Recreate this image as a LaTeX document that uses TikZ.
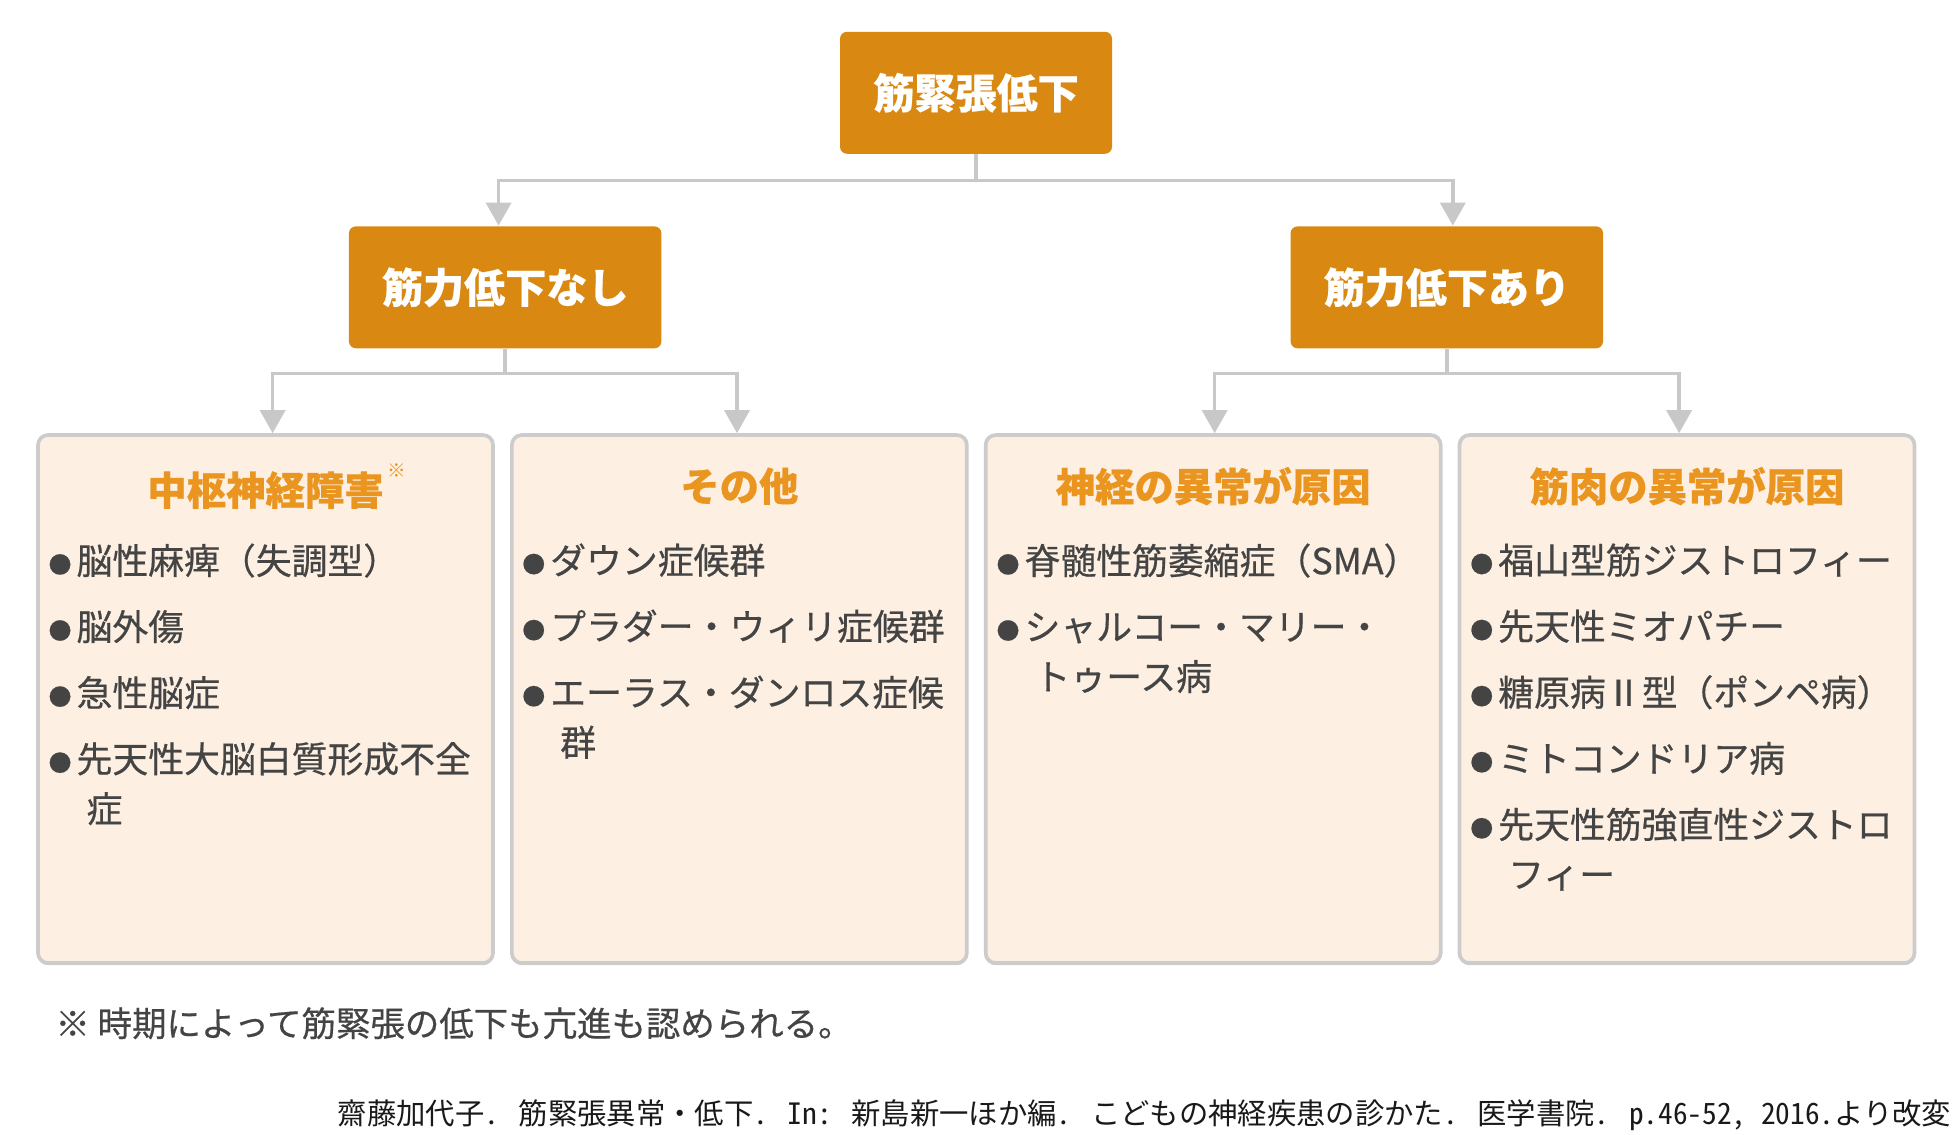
\documentclass[tikz,border=0pt]{standalone}
\usepackage{fontspec}
\setmainfont[BoldFeatures={FakeBold=0.5}]{Noto Sans CJK JP}
\newfontfamily\medfont[FakeBold=0.5]{Noto Sans CJK JP}
\newfontfamily\citefont[RawFeature=+hwid]{Noto Sans CJK JP}
\usetikzlibrary{arrows.meta,shadows}
\definecolor{kinorange}{HTML}{D98911}
\definecolor{titleorange}{HTML}{EA951F}
\definecolor{boxfill}{HTML}{FDF0E2}
\definecolor{boxline}{HTML}{CCCCCC}
\definecolor{linkgray}{HTML}{C8C8C8}
\definecolor{itemgray}{HTML}{444444}
\newcommand{\bul}[1]{\setlength{\parskip}{4.6pt}\hangindent=10.8pt\hangafter=1\noindent\makebox[7.95pt][l]{\raisebox{0.3pt}{\fontsize{6.5}{6.5}\selectfont ●}}#1\par}

\begin{document}
\begin{tikzpicture}[x=0.1245mm, y=-0.1245mm]
\tikzset{orangebox/.style={fill=kinorange, rounded corners=0.7mm, text=white, inner sep=0,
    font=\bfseries\fontsize{11.7}{13}\selectfont, minimum height=12.2mm},
  catbox/.style={draw=boxline, fill=boxfill, line width=0.37mm, rounded corners=1mm, inner sep=0,
    minimum width=45.5mm, minimum height=52.8mm,
    drop shadow={shadow xshift=0mm, shadow yshift=-0.22mm, fill=boxline, opacity=1}},
  cattitle/.style={text=titleorange, inner sep=0, font=\bfseries\fontsize{11.2}{13}\selectfont},
  itemlist/.style={anchor=north west, inner sep=0, text width=44mm, align=left, text=itemgray,
    font=\medfont\fontsize{10.2}{14.2}\selectfont},
  link/.style={draw=linkgray, line width=0.36mm, -{Triangle[width=2.5mm, length=2.3mm]}}}
\useasboundingbox (0,0) rectangle (1568,911);
\node[orangebox, minimum width=27.2mm] (teika) at (784,74.5) {筋緊張低下};
\node[orangebox, minimum width=31.25mm] (nashi) at (405.8,230.8) {筋力低下なし};
\node[orangebox, minimum width=31.25mm] (ari) at (1162.2,230.8) {筋力低下あり};
\node[catbox] (chusu) at (213.3,561.5) {};
\node[catbox] (sonota) at (593.9,561.5) {};
\node[catbox] (shinkei) at (974.5,561.5) {};
\node[catbox] (kinniku) at (1355.1,561.5) {};
\node[cattitle] (chusuT) at (213.3,390.5) {中枢神経障害\rlap{\hspace{1pt}\raisebox{7.9pt}{\mdseries\fontsize{5.3}{6}\selectfont ※}}};
\node[cattitle] (sonotaT) at (593.9,390.5) {その他};
\node[cattitle] (shinkeiT) at (974.5,390.5) {神経の異常が原因};
\node[cattitle] (kinnikuT) at (1355.1,390.5) {筋肉の異常が原因};
\node[itemlist] (chusuL) at (38.5,436) {\bul{脳性麻痺（失調型）}\bul{脳外傷}\bul{急性脳症}\bul{先天性大脳白質形成不全\newline 症}};
\node[itemlist] (sonotaL) at (419,436) {\bul{ダウン症候群}\bul{プラダー・ウィリ症候群}\bul{エーラス・ダンロス症候\newline 群}};
\node[itemlist] (shinkeiL) at (800,436) {\bul{脊髄性筋萎縮症（SMA）}\bul{シャルコー・マリー・\newline トゥース病}};
\node[itemlist] (kinnikuL) at (1180.5,436) {\bul{福山型筋ジストロフィー}\bul{先天性ミオパチー}\bul{糖原病Ⅱ型（ポンペ病）}\bul{ミトコンドリア病}\bul{先天性筋強直性ジストロ\newline フィー}};
\coordinate (a1) at (400.5,145);
\coordinate (a2) at (1167,145);
\coordinate (b1) at (219,300);
\coordinate (b2) at (592,300);
\coordinate (b3) at (975.7,300);
\coordinate (b4) at (1348.8,300);
\draw[link] (teika.south) |- (a1) -- (a1 |- nashi.north);
\draw[link] (teika.south) |- (a2) -- (a2 |- ari.north);
\draw[link] (nashi.south) |- (b1) -- (b1 |- chusu.north);
\draw[link] (nashi.south) |- (b2) -- (b2 |- sonota.north);
\draw[link] (ari.south) |- (b3) -- (b3 |- shinkei.north);
\draw[link] (ari.south) |- (b4) -- (b4 |- kinniku.north);
\node[anchor=west, inner sep=0, text=itemgray, font=\medfont\fontsize{9.8}{11}\selectfont] (chuki) at (44,822) {※ 時期によって筋緊張の低下も亢進も認められる。};
\node[anchor=base east, inner sep=0, text=black!90, font=\citefont\fontsize{8.35}{10}\selectfont] (shutten) at (1568,903) {齋藤加代子. 筋緊張異常・低下. In: 新島新一ほか編. こどもの神経疾患の診かた. 医学書院. p.46-52, 2016.より改変};
\end{tikzpicture}
\end{document}
